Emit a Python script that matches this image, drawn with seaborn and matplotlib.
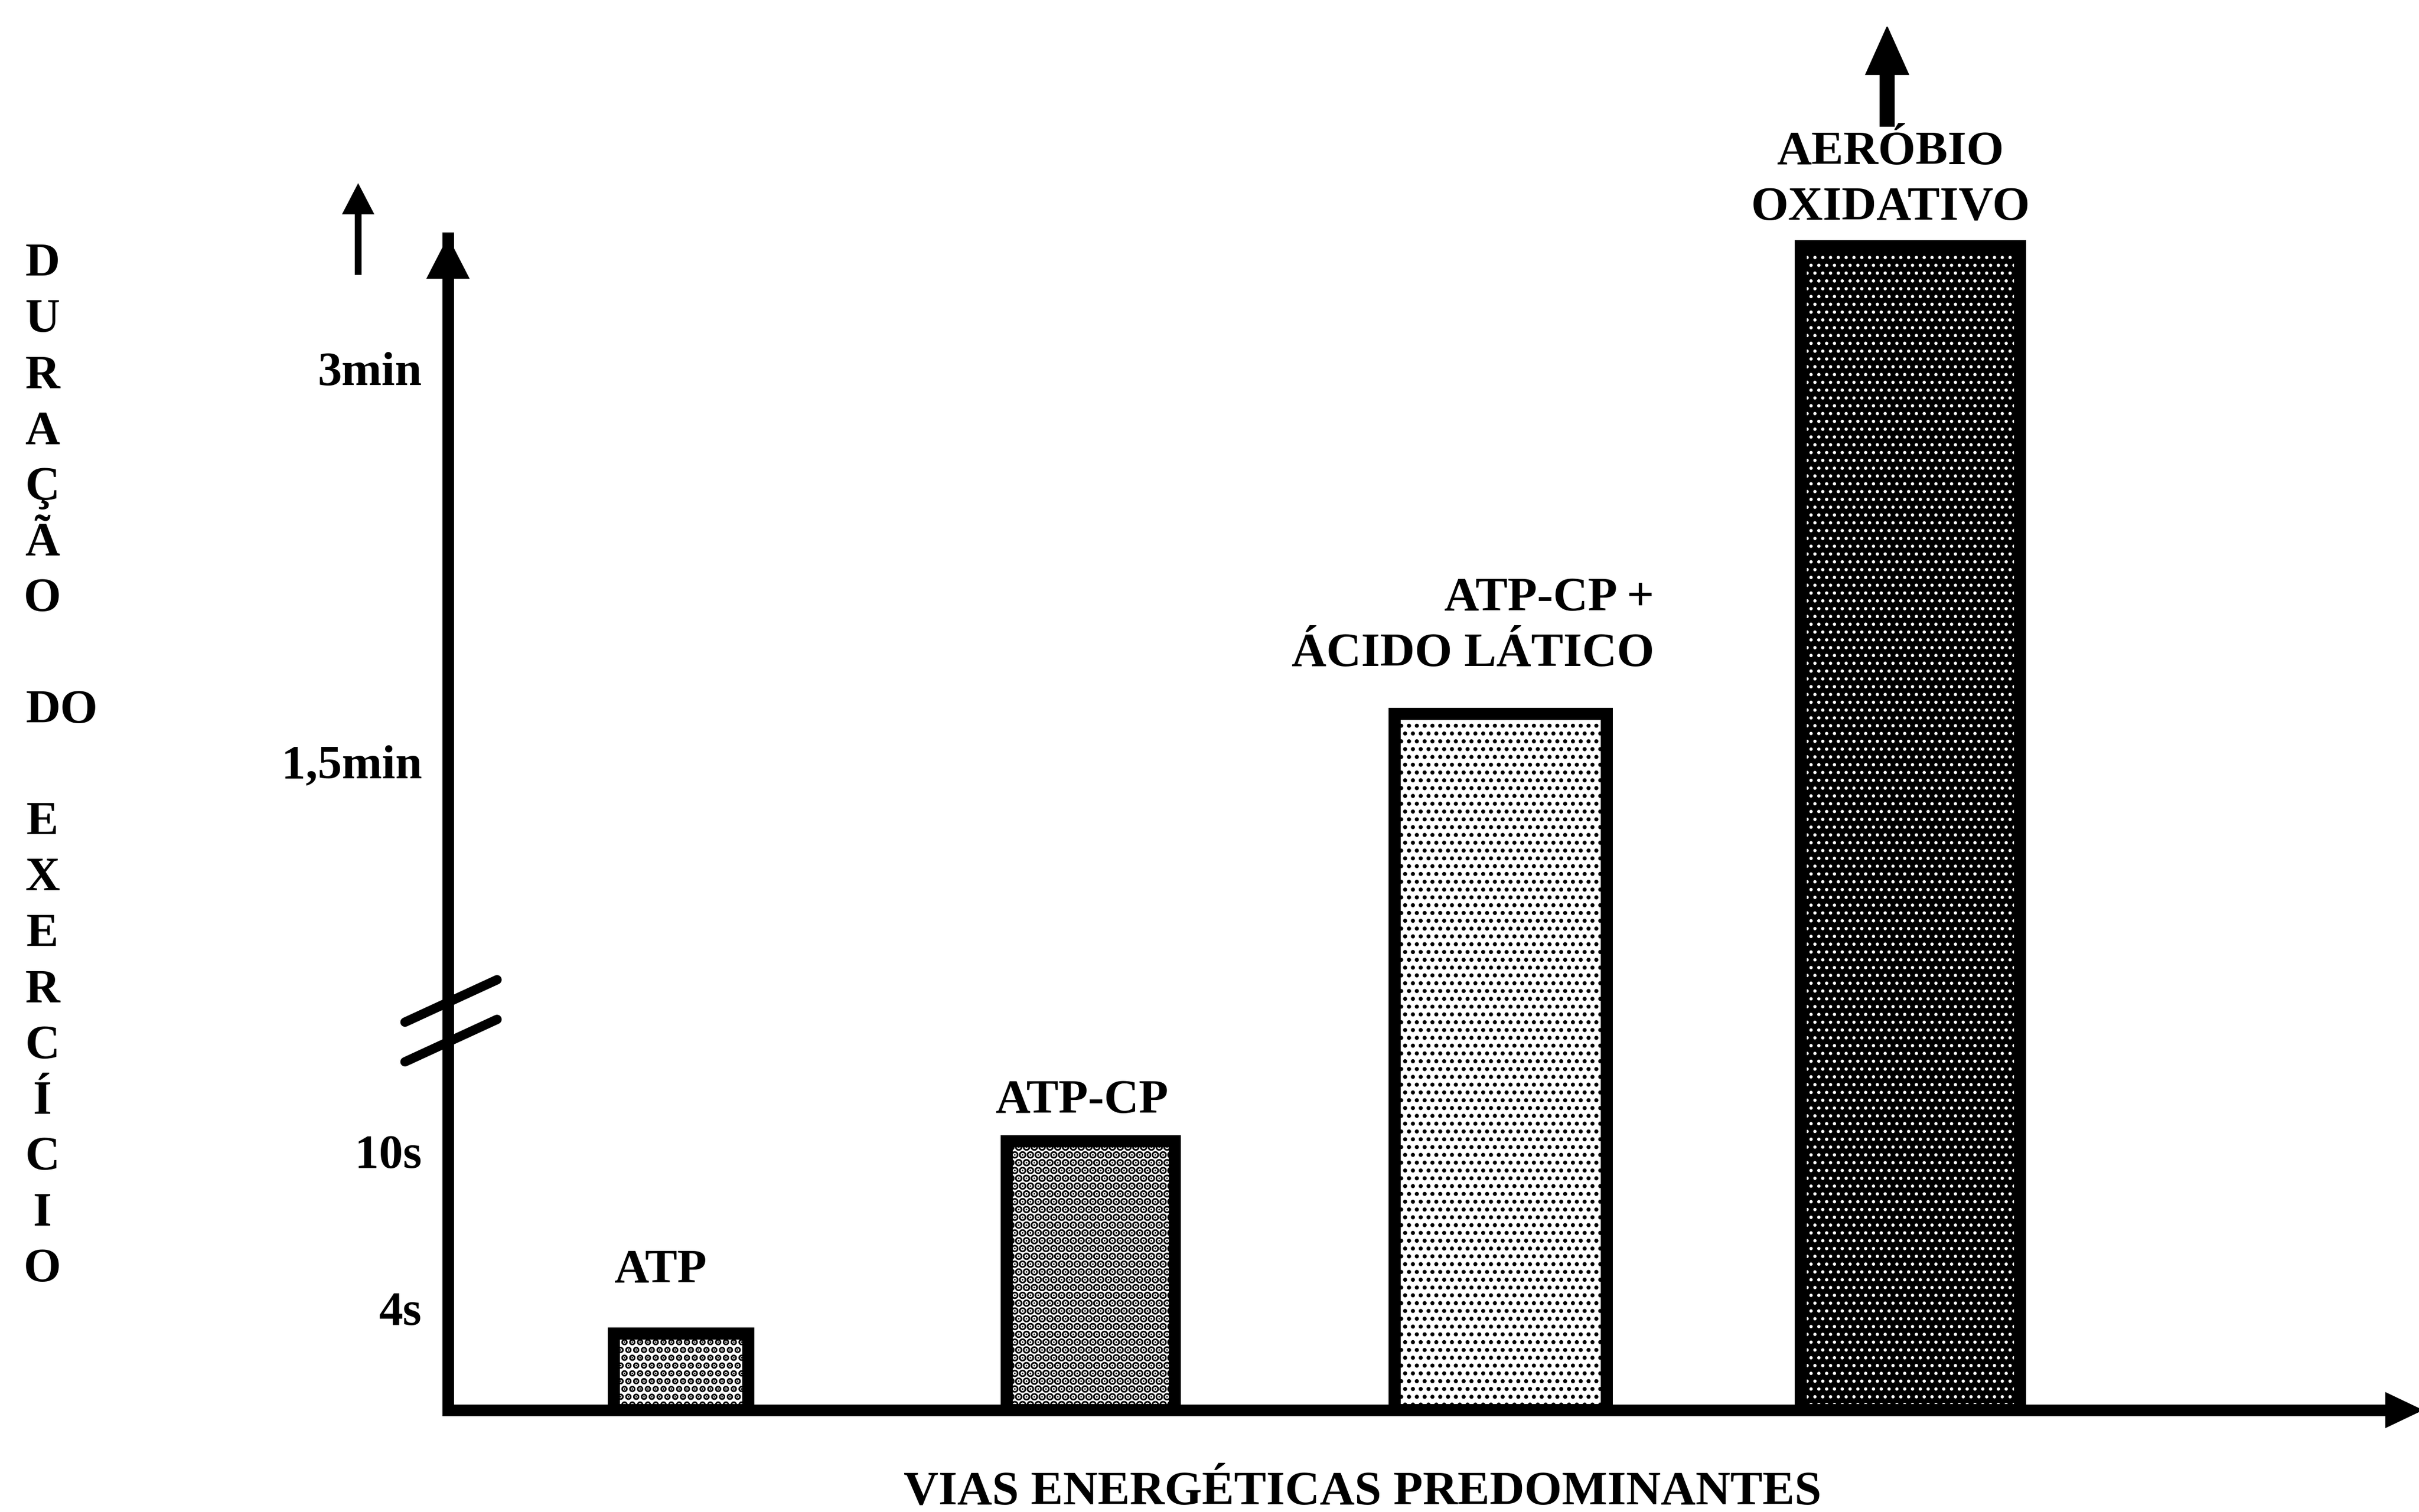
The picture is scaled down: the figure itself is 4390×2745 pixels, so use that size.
import numpy as np
import pandas as pd
import matplotlib
matplotlib.use("Agg")
import matplotlib.pyplot as plt
import seaborn as sns
from matplotlib.patches import Rectangle, FancyArrow
from matplotlib.lines import Line2D
from matplotlib.transforms import IdentityTransform

# ---- data ----
vias = ["ATP", "ATP-CP", "ATP-CP +\nÁCIDO LÁTICO", "AERÓBIO\nOXIDATIVO"]
duracao_s = [3.0, 12.0, 101.0, 208.0]          # bar tops, in seconds
tick_s = [4, 10, 90, 180]
tick_labels = ["4s", "10s", "1,5min", "3min"]
eixo_y = ["D", "U", "R", "A", "Ç", "Ã", "O", "", "DO", "",
          "E", "X", "E", "R", "C", "Í", "C", "I", "O"]
eixo_x = "VIAS ENERGÉTICAS PREDOMINANTES"
quebra_s = 36.8                                  # where the axis is broken

# ---- figure setup ----
W, H, DPI = 4390, 2745, 170
FS = 37
PT = 72 / DPI                                    # pixels -> points

sns.set_theme(style="white")
plt.rcParams["font.family"] = ["Liberation Serif", "DejaVu Serif"]
plt.rcParams["font.weight"] = "bold"

fig = plt.figure(figsize=(W / DPI, H / DPI), dpi=DPI, facecolor="white")
ax = fig.add_axes([813 / W, (H - 2560) / H, (4335 - 813) / W, (2560 - 432) / H])

# broken (piecewise linear) duration axis
knots_s = np.array([0, 4, 10, 90, 180, 600])
knots_px = np.array([0, 185, 470, 1177, 1891, 5222])


def fwd(v):
    return np.interp(v, knots_s, knots_px)


def inv(p):
    return np.interp(p, knots_px, knots_s)


df = pd.DataFrame({"via": vias, "duracao": duracao_s})
sns.barplot(data=df, x="via", y="duracao", order=vias, color="white",
            width=0.45, errorbar=None, ax=ax)

ax.set_yscale("function", functions=(fwd, inv))
ax.set_ylim(0, 209.9)
ax.set_xlim(-0.5689, 4.1676)

# per-bar look: halftone dots
bar_width = [0.327, 0.410, 0.518, 0.535]
bar_face = ["white", "white", "white", "black"]
dot_color = ["black", "black", "black", "white"]
dot_lw = [3.6, 4.4, 1.9, 1.3]

bars = list(ax.patches)
for p, w, fc, dc, lw in zip(bars, bar_width, bar_face, dot_color, dot_lw):
    cx = p.get_x() + p.get_width() / 2
    p.set_x(cx - w / 2)
    p.set_width(w)
    p.set_facecolor(fc)
    p.set_edgecolor(dc)
    p.set_linewidth(0)
    p.set_hatch("..")
    if hasattr(p, "set_hatch_linewidth"):
        p.set_hatch_linewidth(lw)
    p.set_clip_on(False)
    ax.add_patch(Rectangle(p.get_xy(), w, p.get_height(), fill=False,
                           edgecolor="black", linewidth=22 * PT,
                           joinstyle="miter", clip_on=False, zorder=3))

# labels above the bars (offsets in pixels from bar top centre)
label_dx = [-38, -16, 279, -36]
label_dy = [94, 52, 87, 48]
label_ha = ["center", "center", "right", "center"]
for p, txt, dx, dy, ha in zip(bars, vias, label_dx, label_dy, label_ha):
    cx = p.get_x() + p.get_width() / 2
    top = p.get_y() + p.get_height()
    lines = txt.split("\n")
    for k, line in enumerate(lines):
        off = dy + (len(lines) - 1 - k) * 101
        ax.annotate(line, xy=(cx, top), xycoords="data",
                    xytext=(dx * PT, off * PT), textcoords="offset points",
                    ha=ha, va="baseline", fontsize=FS, fontweight="bold",
                    color="black", annotation_clip=False)

# axes styling
for s in ["top", "right"]:
    ax.spines[s].set_visible(False)
for s in ["left", "bottom"]:
    ax.spines[s].set_color("black")
    ax.spines[s].set_linewidth(21 * PT)
    ax.spines[s].set_capstyle("projecting")

ax.set_yticks(tick_s)
ax.set_yticklabels(tick_labels)
ax.yaxis.set_minor_locator(matplotlib.ticker.NullLocator())
ax.tick_params(axis="y", length=0, pad=20, labelsize=FS, labelcolor="black")
ax.set_xticks([])
ax.set_xlabel("")
ax.set_ylabel("")
ax.grid(False)

# arrow heads on the axes
x0, ytop = ax.transAxes.transform((0, 1))
xr, y0 = ax.transAxes.transform((1, 0))
ident = IdentityTransform()
fig.add_artist(FancyArrow(x0, ytop - 73, 0, 73, width=21, head_width=75,
                          head_length=73, length_includes_head=True,
                          color="black", transform=ident))
fig.add_artist(FancyArrow(xr - 5, y0, 65, 0, width=20, head_width=62,
                          head_length=65, length_includes_head=True,
                          color="black", transform=ident))

# extra arrow left of the y axis
fig.add_artist(FancyArrow(650, H - 498, 0, 163, width=10, head_width=55,
                          head_length=53, length_includes_head=True,
                          color="black", transform=ident))

# arrow above the aerobic bar
pa = bars[3]
ax_cx = ax.transData.transform((pa.get_x() + pa.get_width() / 2, 0))[0]
fig.add_artist(FancyArrow(ax_cx - 42, H - 229, 0, 180, width=25, head_width=77,
                          head_length=86, length_includes_head=True,
                          color="black", transform=ident))

# axis break marks
yb = ax.transData.transform((0, quebra_s))[1]
for off in (36, -36):
    fig.add_artist(Line2D([x0 - 78, x0 + 89], [yb + off - 38.5, yb + off + 38.5],
                          color="black", linewidth=17 * PT,
                          solid_capstyle="round", transform=ident))

# vertical axis title, one letter per row
for i, ch in enumerate(eixo_y):
    if not ch:
        continue
    yy = 501 + i * 101.4
    if len(ch) > 1:
        fig.text(46 / W, 1 - yy / H, ch, ha="left", va="baseline",
                 fontsize=FS, fontweight="bold", color="black")
    else:
        fig.text(77 / W, 1 - yy / H, ch, ha="center", va="baseline",
                 fontsize=FS, fontweight="bold", color="black")

fig.text(2473 / W, 1 - 2731 / H, eixo_x, ha="center", va="baseline",
         fontsize=FS, fontweight="bold", color="black")

fig.savefig("out.png", dpi=DPI, facecolor="white")
